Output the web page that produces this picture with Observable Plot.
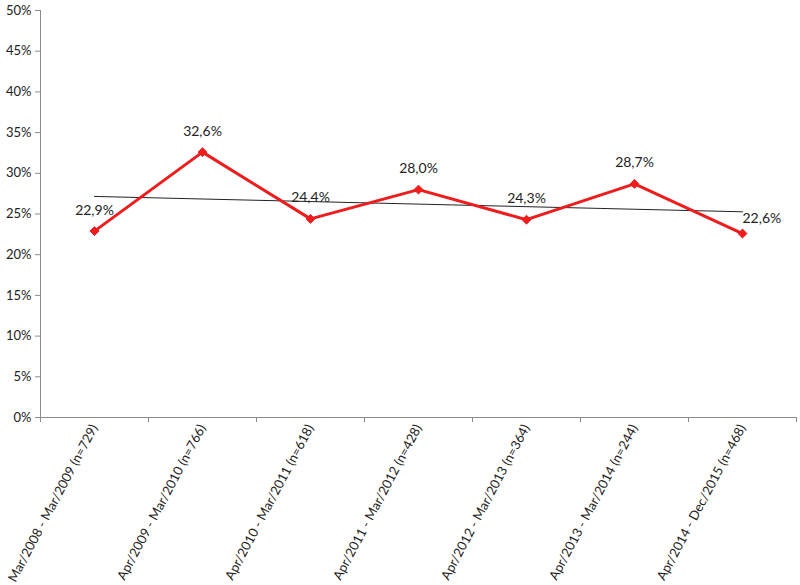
<!DOCTYPE html>
<html><head><meta charset="utf-8">
<script src="https://cdn.jsdelivr.net/npm/d3@7"></script>
<script src="https://cdn.jsdelivr.net/npm/@observablehq/plot@0.6"></script>
<style>html,body{margin:0;padding:0;background:#fff}</style>
</head><body><div id="chart"></div>
<script>
const categories = [
  "Mar/2008 - Mar/2009 (n=729)",
  "Apr/2009 - Mar/2010 (n=766)",
  "Apr/2010 - Mar/2011 (n=618)",
  "Apr/2011 - Mar/2012 (n=428)",
  "Apr/2012 - Mar/2013 (n=364)",
  "Apr/2013 - Mar/2014 (n=244)",
  "Apr/2014 - Dec/2015 (n=468)"
];
const values = [0.229, 0.326, 0.244, 0.280, 0.243, 0.287, 0.226];
const yTicks = [0, 0.05, 0.10, 0.15, 0.20, 0.25, 0.30, 0.35, 0.40, 0.45, 0.50];

const n = categories.length;
const data = categories.map((c, i) => ({i, c, v: values[i]}));
const boundaries = d3.range(n + 1).map(k => k - 0.5);
const fmt = v => (v * 100).toFixed(1).replace(".", ",") + "%";
const red = "#ee1c1c";
const axisGray = "#8c8c8c";

const chart = Plot.plot({
  width: 800, height: 585,
  marginLeft: 40, marginRight: 4, marginTop: 10, marginBottom: 168,
  style: {fontFamily: "Lato, 'Open Sans', sans-serif", background: "#fff", color: "#222"},
  x: {type: "linear", domain: [-0.5, n - 0.5], label: null},
  y: {domain: [0, 0.5], label: null},
  marks: [
    Plot.axisY({ticks: yTicks, tickFormat: d => Math.round(d * 100) + "%", tickSize: 5, tickPadding: 4, fontSize: 13, stroke: axisGray, fill: "#222", label: null}),
    Plot.axisX({ticks: boundaries, tickFormat: () => "", tickSize: 5, stroke: axisGray, label: null}),
    Plot.axisX({ticks: d3.range(n), tickFormat: k => categories[k], tickSize: 0, tickPadding: 8, tickRotate: -62, fontSize: 13, fill: "#222", label: null}),
    Plot.ruleX([-0.5], {stroke: axisGray}),
    Plot.ruleY([0], {stroke: axisGray}),
    Plot.linearRegressionY(data, {x: "i", y: "v", ci: 0, stroke: "#222", strokeWidth: 1}),
    Plot.lineY(data, {x: "i", y: "v", stroke: red, strokeWidth: 3}),
    Plot.dot(data, {x: "i", y: "v", symbol: "diamond2", fill: red, stroke: red, strokeWidth: 1, r: 4}),
    Plot.text(data, {filter: d => d.i < n - 1, x: "i", y: "v", text: d => fmt(d.v), dy: -21, fontSize: 14, fill: "#222"}),
    Plot.text(data, {filter: d => d.i === n - 1, x: "i", y: "v", text: d => fmt(d.v), dy: -15, dx: 0, textAnchor: "start", fontSize: 14, fill: "#222"})
  ]
});
document.getElementById("chart").append(chart);
</script>
</body></html>
